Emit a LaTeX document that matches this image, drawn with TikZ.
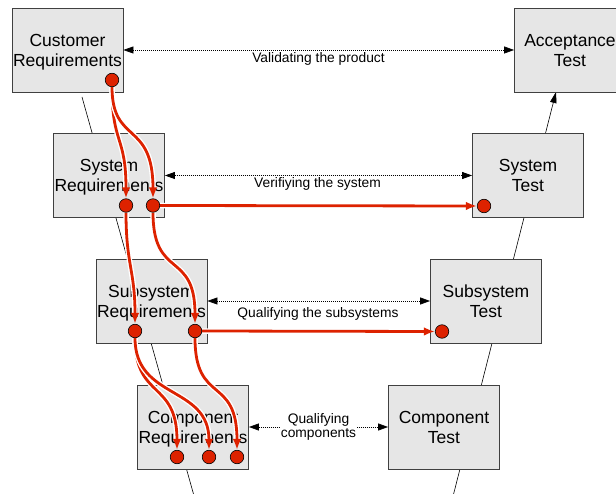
\documentclass[tikz,border=0pt]{standalone}
\usepackage{fontspec}
\setmainfont{Liberation Sans}
\usetikzlibrary{arrows.meta}
\definecolor{boxgray}{RGB}{230,230,230}
\definecolor{tracered}{RGB}{221,34,0}
\pgfdeclarelayer{vlayer}
\pgfdeclarelayer{boxlayer}
\pgfdeclarelayer{tracelayer}
\pgfsetlayers{vlayer,boxlayer,tracelayer,main}
% two-line box caption with fixed height and depth
\newcommand{\stagetext}[2]{\rule{0pt}{16.7pt}#1\\#2\rule[-4pt]{0pt}{4pt}}
\begin{document}
\begin{tikzpicture}[x=1pt,y=-1pt,
  stage/.style={draw=black!75, line width=0.8pt, fill=boxgray,
    minimum width=111pt, minimum height=84pt, inner sep=0pt,
    align=center, font=\fontsize{17.5}{20}\selectfont},
  tracept/.style={circle, draw=black, line width=0.6pt, fill=tracered,
    minimum size=13.5pt, inner sep=0pt},
  vline/.style={draw=black, line width=0.6pt},
  check/.style={draw=black, line width=0.7pt, dash pattern=on 1pt off 1pt,
    {Triangle[length=10pt,width=7pt]}-{Triangle[length=10pt,width=7pt]}},
  note/.style={font=\fontsize{13.8}{14.6}\selectfont, inner sep=0pt},
  trace/.style={draw=tracered, line width=2.8pt,
    -{Latex[length=11pt,width=8.5pt]},
    preaction={draw=white, line width=5.5pt, -{}, shorten >=10pt}},
]
\clip (0,0) rectangle (616,494);

% stage boxes
\begin{pgfonlayer}{boxlayer}
\node[stage] (CR)  at (67.5,50)   {\stagetext{Customer}{Requirements}};
\node[stage] (SR)  at (109,175.5) {\stagetext{System}{Requirements}};
\node[stage] (SSR) at (151.5,301) {\stagetext{Subsystem}{Requirements}};
\node[stage] (CoR) at (193,427)   {\stagetext{Component}{Requirements}};
\node[stage] (AT)  at (570,50)    {\stagetext{Acceptance}{Test}};
\node[stage] (ST)  at (528,175.5) {\stagetext{System}{Test}};
\node[stage] (SST) at (486,301)   {\stagetext{Subsystem}{Test}};
\node[stage] (CoT) at (444,427)   {\stagetext{Component}{Test}};
\end{pgfonlayer}

% the two legs of the V
\coordinate (vLtop) at (82,97);
\coordinate (vLbot) at (193.5,494);
\coordinate (vRbot) at (453.6,494);
\coordinate (vRtop) at (556,92);
\begin{pgfonlayer}{vlayer}
\draw[vline] (vLtop) -- (vLbot);
\draw[vline,-{Triangle[length=11pt,width=6.5pt]}] (vRbot) -- (vRtop);
\end{pgfonlayer}

% verification links
\draw[check] (CR.east) -- (AT.west);
\draw[check] (SR.east) -- (ST.west);
\draw[check] (SSR.east) -- (SST.west);
\draw[check] (CoR.east) -- (CoT.west);
\node[note, anchor=base] (lval) at (318.5,62.5) {Validating the product};
\node[note, anchor=base] (lver) at (317.5,187.5) {Verifiying the system};
\node[note, anchor=base] (lsub) at (318,317.5) {Qualifying the subsystems};
\node[note, fill=white, align=center, inner sep=0.6pt] (lcom) at (318.5,427) {Qualifying\\components};

% trace points
\node[tracept] (c0) at (112,80) {};
\node[tracept] (s1) at (126,205.5) {};
\node[tracept] (s2) at (153,205.5) {};
\node[tracept] (t1) at (484,206) {};
\node[tracept] (u1) at (135,331) {};
\node[tracept] (u2) at (195,331) {};
\node[tracept] (t2) at (442,331.5) {};
\node[tracept] (k1) at (177,457) {};
\node[tracept] (k2) at (209,457) {};
\node[tracept] (k3) at (237,457) {};

% traceability links
\begin{pgfonlayer}{tracelayer}
\draw[trace] (c0.south) .. controls (112,145) and (126,135) .. (s1.north);
\draw[trace] (c0.south) .. controls (112,145) and (153,120) .. (s2.north);
\draw[trace] (s2.east) -- (t1.west);
\draw[trace] (s1.south) .. controls (126,265) and (135,270) .. (u1.north);
\draw[trace] (s2.south) .. controls (153,280) and (195,250) .. (u2.north);
\draw[trace] (u2.east) -- (t2.west);
\draw[trace] (u1.south) .. controls (135,400) and (177,380) .. (k1.north);
\draw[trace] (u1.south) .. controls (135,400) and (209,385) .. (k2.north);
\draw[trace] (u2.south) .. controls (195,405) and (237,375) .. (k3.north);
\end{pgfonlayer}
\end{tikzpicture}
\end{document}
